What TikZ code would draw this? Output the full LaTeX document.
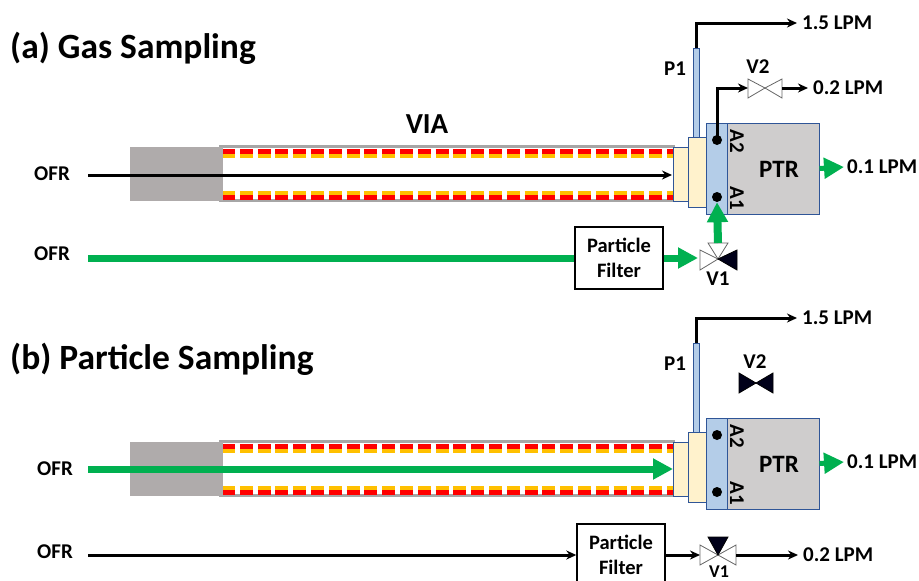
\documentclass[tikz,border=0pt]{standalone}
\usepackage{fontspec}
\setmainfont{Carlito}
\usetikzlibrary{arrows.meta,positioning}
\definecolor{flowgreen}{HTML}{00B050}
\definecolor{boxblue}{HTML}{B4CDE8}
\definecolor{edgeblue}{HTML}{2F5597}
\definecolor{cream}{HTML}{FFF2CC}
\definecolor{ptrgray}{HTML}{CFCDCD}
\definecolor{blockgray}{HTML}{AFABAB}
\definecolor{heatorange}{HTML}{FFC000}
\tikzset{
  part/.style={draw=edgeblue, line width=1pt, inner sep=0pt},
  filterbox/.style={draw=black, line width=1.4pt, fill=white, minimum width=88pt,
    minimum height=62pt, align=center, font=\fontsize{20.5}{25}\selectfont\bfseries},
  lbl/.style={inner sep=0pt, font=\fontsize{21}{22}\selectfont\bfseries},
  ttl/.style={inner sep=0pt, anchor=west, font=\fontsize{35.5}{38}\selectfont\bfseries},
  port/.style={circle, fill=black, minimum size=10pt, inner sep=0pt},
  flow/.style={-{Stealth[length=10pt,width=9pt]}, line width=3pt},
  gflow/.style={-{Triangle[length=20pt,width=20pt]}, line width=7pt, flowgreen},
  vopen/.style={draw=black!60, fill=white, line width=0.8pt},
  vshut/.style={draw=black, fill=black!90!blue, line width=0.8pt}
}
\begin{document}
\begin{tikzpicture}[x=1pt, y=-1pt]
  \useasboundingbox (0,0) rectangle (919,581);
  \clip (0,0) rectangle (919,581);
  \node[ttl] (titleA) at (10,48) {(a) Gas Sampling};
  \node[ttl] (titleB) at (10,359) {(b) Particle Sampling};
  \node[lbl, font=\fontsize{29}{31}\selectfont\bfseries] (via) at (427,124) {VIA};
  % the inlet, couplings and PTR are the same in both panels
  \foreach \dy/\nm in {0/A, 295/B}{
    \begin{scope}[yshift=-\dy pt]
      \draw[black!35, line width=3pt] (220,146.5) rectangle (673,200.5);
      \fill[white] (221.5,148) rectangle (673,199);
      \draw[red, line width=4.5pt, dash pattern=on 13pt off 4.8pt] (222,151.5) -- (673,151.5);
      \draw[heatorange, line width=4.5pt, dash pattern=on 13pt off 4.8pt] (222,156) -- (673,156);
      \draw[heatorange, line width=4.5pt, dash pattern=on 13pt off 4.8pt] (222,193) -- (673,193);
      \draw[red, line width=4.5pt, dash pattern=on 13pt off 4.8pt] (222,197.5) -- (673,197.5);
      \node[fill=blockgray, minimum width=93pt, minimum height=54pt, inner sep=0pt] (block\nm) at (176.5,174) {};
      \node[part, fill=boxblue, minimum width=6pt, minimum height=89pt] (sniff\nm) at (696,92.5) {};
      \node[part, fill=cream, minimum width=15pt, minimum height=54pt] (inner\nm) at (680.5,174) {};
      \node[part, fill=cream, minimum width=18pt, minimum height=70pt] (outer\nm) at (697,172) {};
      \node[part, fill=ptrgray, minimum width=92pt, minimum height=91pt] (ptr\nm) at (773,168.5) {};
      \node[part, fill=boxblue, minimum width=21pt, minimum height=91pt] (cell\nm) at (716.5,168.5) {};
      \node[lbl, font=\fontsize{25}{27}\selectfont\bfseries] (ptrlab\nm) at (779,169) {PTR};
      \node[port] (aTwo\nm) at (717,140) {};
      \node[port] (aOne\nm) at (717,197) {};
      \node[lbl, rotate=-90] (aTwoLab\nm) at (737,141) {A2};
      \node[lbl, rotate=-90] (aOneLab\nm) at (737,198) {A1};
      \node[lbl] (pOne\nm) at (675,69) {P1};
      \coordinate (bend\nm) at (696,23);
      \node[lbl, anchor=west] (purge\nm) at (802,23) {1.5 LPM};
      \node[lbl, anchor=west] (exit\nm) at (847,167) {0.1 LPM};
      \draw[flow] (sniff\nm.north) -- (bend\nm) -- ([xshift=-5pt]purge\nm.west);
      \draw[-{Triangle[length=20pt,width=20pt]}, line width=5pt, flowgreen] (ptr\nm.east) -- ([xshift=-3pt]exit\nm.west);
    \end{scope}
  }
  % panel a
  \node[lbl] (ofrA) at (52,174) {OFR};
  \node[lbl] (ofrAf) at (52,254) {OFR};
  \coordinate (startA) at (88,175);
  \coordinate (startAf) at (88,258);
  \draw[flow] (startA) -- (672,175);
  \node[filterbox] (filterA) at (619,258) {Particle\\Filter};
  \coordinate (vOneW) at (698,258);
  \coordinate (vOneN) at (718,243);
  \draw[vopen] (718,259) -- (700,250) -- (700,270) -- cycle;
  \draw[vopen] (718,259) -- (708,243) -- (728,243) -- cycle;
  \draw[vshut] (718,259) -- (737,250) -- (737,270) -- cycle;
  \draw[flowgreen, line width=7pt] (startAf) -- (filterA.west);
  \draw[gflow] (filterA.east) -- (vOneW);
  \draw[gflow, line width=8pt] (vOneN) -- (aOneA.south);
  \node[lbl] (vOneA) at (718,279) {V1};
  \node[lbl] (vTwoA) at (758,67) {V2};
  \draw[vopen] (765,88) -- (748,79) -- (748,98) -- cycle;
  \draw[vopen] (765,88) -- (782,79) -- (782,98) -- cycle;
  \coordinate (vTwoW) at (748,88);
  \coordinate (vTwoE) at (782,88);
  \node[lbl, anchor=west] (lowA) at (813,88) {0.2 LPM};
  \draw[flow] (aTwoA.center) |- (vTwoW);
  \draw[flow] (vTwoE) -- ([xshift=-5pt]lowA.west);
  % panel b
  \node[lbl] (ofrB) at (55,469) {OFR};
  \node[lbl] (ofrBf) at (55,552) {OFR};
  \coordinate (startB) at (88,469);
  \coordinate (startBf) at (88,555);
  \draw[gflow] (startB) -- (673,469);
  \node[filterbox] (filterB) at (621,555) {Particle\\Filter};
  \coordinate (vOneBw) at (700,555);
  \coordinate (vOneBe) at (736,555);
  \draw[vopen] (718,555) -- (700,545) -- (700,565) -- cycle;
  \draw[vopen] (718,555) -- (736,545) -- (736,565) -- cycle;
  \draw[vshut] (718,555) -- (708,537) -- (728,537) -- cycle;
  \draw[flow] (startBf) -- (filterB.west);
  \draw[flow] (filterB.east) -- (vOneBw);
  \node[lbl, anchor=west] (lowB) at (803,555) {0.2 LPM};
  \draw[flow] (vOneBe) -- ([xshift=-5pt]lowB.west);
  \node[lbl, font=\fontsize{18}{19}\selectfont\bfseries] (vOneB) at (719,572) {V1};
  \node[lbl] (vTwoB) at (755,362) {V2};
  \draw[vshut] (756,383) -- (739,373) -- (739,393) -- cycle;
  \draw[vshut] (756,383) -- (773,373) -- (773,393) -- cycle;
\end{tikzpicture}
\end{document}
